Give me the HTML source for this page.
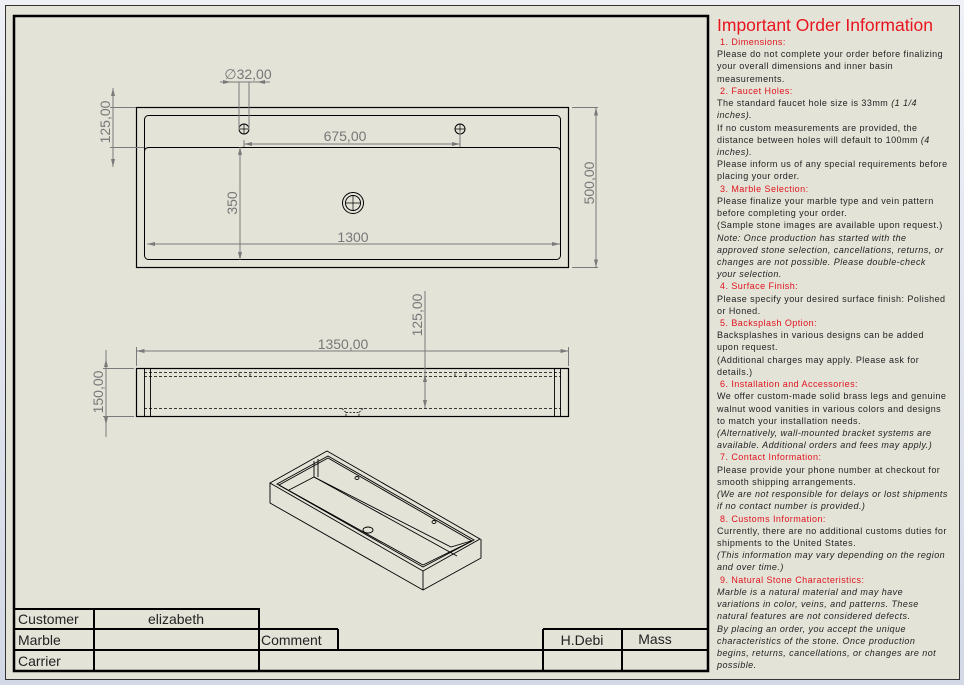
<!DOCTYPE html>
<html><head><meta charset="utf-8">
<style>
html,body{margin:0;padding:0;width:964px;height:685px;overflow:hidden;background:linear-gradient(180deg,#eef0f6,#d3d8e6);font-family:"Liberation Sans",sans-serif;}
#sheet{position:absolute;left:5px;top:5px;width:953px;height:673px;background:#e4e3d8;border:1px solid #333;}
#info{position:absolute;left:717px;top:36px;font-size:9px;letter-spacing:0.45px;line-height:12.22px;color:#222;white-space:nowrap;}
#info div{height:12.22px;}
#info .r{color:#e0141e;padding-left:3px;}
#info .i{font-style:italic;}
#title{position:absolute;left:717px;top:15px;font-size:17.5px;color:#e8141e;white-space:nowrap;}
svg{position:absolute;left:0;top:0;}
</style></head><body>
<div id="sheet"></div>
<svg width="964" height="685" viewBox="0 0 964 685">
<g fill="none" stroke="#000">
<path d="M14,16 H708 V671 H14 Z" stroke-width="2.5"/>
<rect x="136.5" y="107.5" width="432" height="160" stroke-width="1.2"/>
<rect x="144.5" y="115.5" width="416" height="144" rx="4" stroke-width="1"/>
<path d="M144.5,151 Q145,147.5 149,147.5 H556 Q560,147.5 560.5,151" stroke-width="1"/>
<circle cx="244" cy="129" r="5"/><path d="M239,129h10M244,124v10" stroke-width="0.7"/>
<circle cx="460" cy="129" r="5"/><path d="M455,129h10M460,124v10" stroke-width="0.7"/>
<circle cx="353" cy="203" r="10.5"/><circle cx="353" cy="203" r="7.5"/><path d="M345.5,203h15M353,195.5v15" stroke-width="0.7"/>
<rect x="136.5" y="368.5" width="432" height="48" stroke-width="1.2"/>
<path d="M144.5,368v48M150.5,368v48M554.5,368v48M560.5,368v48" stroke-width="0.9"/>
<path d="M144,372.5H561M144,376.5H561M144,408.5H561M239,376.5v-3M250,376.5v-3M455,376.5v-3M466,376.5v-3" stroke-width="0.8" stroke-dasharray="3,2"/>
<path d="M342,408.5l4,4v4M363,408.5l-4,4v4M346,412.5h13" stroke-width="0.8" stroke-dasharray="2,1.5"/>
<g stroke-width="0.9">
<path d="M270,483 L327,451 L480,539 L423,571 Z"/>
<path d="M270,483 V503 L423,590 L481,558 V539"/>
<path d="M423,571 V590"/>
<path d="M277,484 L328,456 L474,540 L423,567 Z"/>
<path d="M279,485 L328,458 L472,541 L423,565 Z"/>
<path d="M289,490 L314,477 L457,556"/>
<path d="M314,477 V461 M318,477 V459"/>
<path d="M314,477 L451,547 L471,541"/>
<ellipse cx="368" cy="530" rx="5" ry="3"/>
<ellipse cx="357" cy="478" rx="2" ry="1.5"/>
<ellipse cx="434" cy="522" rx="2" ry="1.5"/>
</g>
<g stroke-width="2">
<path d="M15,609H259V629M15,629H338M15,650H708M259,650V670M94,609V670M259,629V650M338,629V650M543,629V670M622,629V670M543,629H708"/>
</g>
</g>
<g stroke="#7a7a7a" fill="none" stroke-width="1">
<path d="M220,82H270M239,82V130M249,82V130"/>
<path d="M113,88V167M110,107.5H136M110,147.5H144"/>
<path d="M244,144H460M460,131V147M244,140V147"/>
<path d="M240,147V260"/>
<path d="M147,244H560"/>
<path d="M596,107.5V267.5M572,107.5H598M572,267.5H598"/>
<path d="M136.5,351H568.5M136.5,347V366M568.5,347V366"/>
<path d="M425,291V408"/>
<path d="M106,350V437M103,368.5H134M103,416.5H134"/>
</g>
<g fill="#7a7a7a">
<path d="M113,88l-2,8h4zM113,167l-2,-8h4zM244,144l8,-2v4zM460,144l-8,-2v4zM240,147l-2,8h4zM240,260l-2,-8h4zM147,244l8,-2v4zM560,244l-8,-2v4zM596,107.5l-2,8h4zM596,267.5l-2,-8h4zM136.5,351l8,-2v4zM568.5,351l-8,-2v4zM425,374l-2,8h4zM425,408l-2,-8h4zM106,359l-2,8h4zM106,425l-2,-8h4zM231,82l-8,-2v4zM257,82l8,-2v4z"/>
</g>
<g fill="#777" font-family="'Liberation Sans',sans-serif" font-size="14" text-anchor="middle">
<text x="248" y="79">∅32,00</text>
<text x="345" y="141">675,00</text>
<text x="353" y="242">1300</text>
<text x="343" y="349">1350,00</text>
<text transform="translate(110,122) rotate(-90)">125,00</text>
<text transform="translate(237,203) rotate(-90)">350</text>
<text transform="translate(594,183) rotate(-90)">500,00</text>
<text transform="translate(422,315) rotate(-90)">125,00</text>
<text transform="translate(103,392) rotate(-90)">150,00</text>
</g>
<g fill="#222" font-family="'Liberation Sans',sans-serif" font-size="14">
<text x="18" y="624">Customer</text>
<text x="176" y="624" text-anchor="middle">elizabeth</text>
<text x="18" y="645">Marble</text>
<text x="261" y="645">Comment</text>
<text x="582" y="645" text-anchor="middle">H.Debi</text>
<text x="655" y="644" text-anchor="middle">Mass</text>
<text x="18" y="666">Carrier</text>
</g>
</svg>
<div id="title">Important Order Information</div>
<div id="info">
<div class="r">1. Dimensions:</div>
<div>Please do not complete your order before finalizing</div>
<div>your overall dimensions and inner basin</div>
<div>measurements.</div>
<div class="r">2. Faucet Holes:</div>
<div>The standard faucet hole size is 33mm <i>(1 1/4</i></div>
<div class="i">inches).</div>
<div>If no custom measurements are provided, the</div>
<div>distance between holes will default to 100mm <i>(4</i></div>
<div class="i">inches).</div>
<div>Please inform us of any special requirements before</div>
<div>placing your order.</div>
<div class="r">3. Marble Selection:</div>
<div>Please finalize your marble type and vein pattern</div>
<div>before completing your order.</div>
<div>(Sample stone images are available upon request.)</div>
<div class="i">Note: Once production has started with the</div>
<div class="i">approved stone selection, cancellations, returns, or</div>
<div class="i">changes are not possible. Please double-check</div>
<div class="i">your selection.</div>
<div class="r">4. Surface Finish:</div>
<div>Please specify your desired surface finish: Polished</div>
<div>or Honed.</div>
<div class="r">5. Backsplash Option:</div>
<div>Backsplashes in various designs can be added</div>
<div>upon request.</div>
<div>(Additional charges may apply. Please ask for</div>
<div>details.)</div>
<div class="r">6. Installation and Accessories:</div>
<div>We offer custom-made solid brass legs and genuine</div>
<div>walnut wood vanities in various colors and designs</div>
<div>to match your installation needs.</div>
<div class="i">(Alternatively, wall-mounted bracket systems are</div>
<div class="i">available. Additional orders and fees may apply.)</div>
<div class="r">7. Contact Information:</div>
<div>Please provide your phone number at checkout for</div>
<div>smooth shipping arrangements.</div>
<div class="i">(We are not responsible for delays or lost shipments</div>
<div class="i">if no contact number is provided.)</div>
<div class="r">8. Customs Information:</div>
<div>Currently, there are no additional customs duties for</div>
<div>shipments to the United States.</div>
<div class="i">(This information may vary depending on the region</div>
<div class="i">and over time.)</div>
<div class="r">9. Natural Stone Characteristics:</div>
<div class="i">Marble is a natural material and may have</div>
<div class="i">variations in color, veins, and patterns. These</div>
<div class="i">natural features are not considered defects.</div>
<div class="i">By placing an order, you accept the unique</div>
<div class="i">characteristics of the stone. Once production</div>
<div class="i">begins, returns, cancellations, or changes are not</div>
<div class="i">possible.</div>
</div>
</body></html>
